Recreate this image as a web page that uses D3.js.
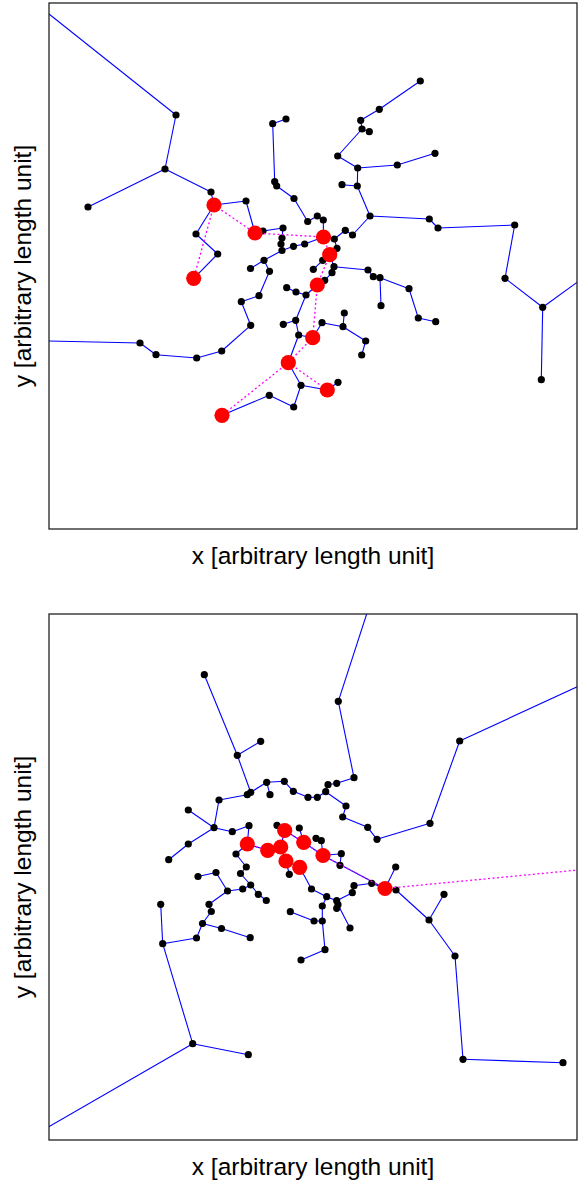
<!DOCTYPE html>
<html>
<head>
<meta charset="utf-8">
<script src="https://cdn.jsdelivr.net/npm/d3@7"></script>
<style>
  body { margin: 0; background: #fff; }
  text { font-family: "Liberation Sans", Arial, Helvetica, sans-serif; }
</style>
</head>
<body>
<div id="container"></div>
<script>
let w = 586;
let h = 1180;

// top panel: node positions (arbitrary length unit)
let topX = [-4.9,12.7,11.6,3.9,16.2,16.5,19.7,20.6,21.4,23.4,23.3,23.2,23.3,24.45,25.57,27.45,21.5,20.15,22.05,21.0,
  19.23,20.17,17.27,14.77,10.7,9.1,-4.9,14.7,16.87,14.47,22.37,23.7,22.57,22.77,24.5,25.87,26.83,27.43,28.53,29.63,
  30.35,32.1,30.83,29.3,30.87,28.87,34.83,38.6,31.3,32.03,31.17,33.03,37.13,38.03,38.9,46.57,45.6,49.37,49.23,57.1,
  28.8,28.07,27.37,26.43,28.5,31.9,32.43,33.1,33.2,36.0,36.93,38.67,28.3,27.57,26.83,25.7,24.7,23.77,24.67,23.43,
  24.97,26.37,27.3,29.4,29.53,31.67,31.27,23.93,25.2,24.47,22.03,17.3,27.83,28.9];
let topY = [55.4,41.4,36.0,32.2,33.7,32.4,32.8,29.6,29.8,30.1,29.1,28.5,27.85,28.27,28.5,29.2,26.87,26.05,25.77,23.33,
  22.73,20.37,17.8,17.1,17.43,18.6,18.9,29.5,27.5,25.07,40.53,41.0,34.73,34.3,33.05,30.75,31.3,30.9,29.0,29.87,
  29.4,31.3,34.3,34.43,36.1,37.3,36.4,37.57,40.0,39.73,40.87,41.97,44.8,31.0,30.1,30.4,25.07,22.17,14.93,27.8,
  28.07,27.43,26.87,25.97,26.23,25.9,25.23,25.13,22.33,24.03,21.1,20.73,25.63,24.87,24.4,23.4,23.7,24.13,20.87,20.47,
  19.4,19.13,20.63,20.23,21.6,18.8,17.4,16.63,14.37,12.2,13.37,11.37,13.9,14.67];
let topEdges = [[0,1],[1,2],[2,3],[2,4],[4,5],[5,6],[6,7],[7,8],[8,9],[9,10],[10,11],[11,12],[12,13],[13,14],[14,15],
  [12,16],[16,17],[16,18],[18,19],[19,20],[20,21],[21,22],[22,23],[23,24],[24,25],[25,26],[5,27],[27,28],[28,29],
  [30,31],[30,32],[32,33],[33,34],[34,35],[35,36],[36,37],[37,15],[15,38],[38,39],[39,40],[40,41],[41,42],[42,43],
  [42,44],[44,45],[44,46],[46,47],[45,48],[48,49],[48,50],[50,51],[51,52],[41,53],[53,54],[54,55],[55,56],[56,57],
  [57,58],[57,59],[38,60],[60,61],[61,62],[62,63],[61,64],[64,65],[65,66],[66,67],[67,68],[67,69],[69,70],[70,71],
  [64,72],[72,73],[73,74],[74,75],[75,76],[76,77],[75,78],[78,79],[78,80],[80,81],[81,82],[82,83],[83,84],[83,85],
  [85,86],[80,87],[87,88],[88,89],[89,90],[90,91],[88,92],[92,93]];
let topRed = [5,7,15,29,61,74,81,87,91,92];
let topRedEdges = [[5,7],[5,29],[7,15],[15,61],[61,74],[74,81],[81,87],[87,92],[87,91]];

// bottom panel
let botX = [33.1,28.93,30.5,28.77,27.9,27.67,26.83,25.9,24.43,23.53,21.77,22.1,20.17,19.83,18.83,15.53,21.17,17.0,16.5,13.93,
  13.93,11.97,18.33,20.0,19.83,21.87,23.17,23.57,25.47,23.7,25.07,27.4,33.6,29.7,29.37,31.87,32.8,38.1,41.07,57.1,
  22.8,25.03,26.7,27.23,29.23,29.1,18.7,19.73,19.15,20.17,20.93,21.73,19.37,17.85,16.7,14.9,16.0,16.23,15.35,17.25,
  20.12,14.75,11.37,11.17,14.37,19.93,-4.9,24.03,24.13,26.5,27.33,27.33,27.6,25.2,27.77,26.25,28.77,28.9,28.77,30.1,
  30.33,30.5,32.27,34.7,34.67,38.0,39.5,40.6,41.4,51.4,57.1];
let botY = [56.7,43.87,36.23,35.67,35.53,34.83,34.27,34.27,34.87,35.87,35.77,34.53,34.77,34.53,38.47,46.53,39.87,34.0,31.23,33.0,
  29.6,28.03,30.83,31.43,29.6,28.97,29.3,30.95,29.77,27.9,27.27,28.45,25.15,33.4,32.3,31.27,30.07,31.67,39.9,47.3,
  31.47,31.2,30.17,29.93,28.63,27.47,28.6,27.3,26.65,25.5,24.57,23.95,25.1,24.9,26.75,26.35,23.57,22.85,21.65,21.15,
  20.23,20.2,19.63,23.57,9.63,8.53,-1.5,26.57,22.83,21.9,21.9,23.4,19.03,18.0,24.33,25.1,23.93,23.53,23.17,21.2,
  24.73,25.43,25.67,25.0,27.3,22.0,24.57,18.4,8.07,7.73,27.4];
let botEdges = [[0,1],[1,2],[2,3],[3,4],[4,5],[5,6],[6,7],[7,8],[8,9],[9,10],[10,11],[10,12],[12,13],[12,14],[14,15],
  [14,16],[13,17],[17,18],[18,19],[18,20],[20,21],[18,22],[22,23],[23,24],[24,25],[25,26],[26,27],[27,28],[26,29],
  [29,30],[28,31],[31,32],[5,33],[33,34],[34,35],[35,36],[36,37],[37,38],[38,39],[27,40],[28,41],[31,43],[43,42],
  [31,44],[44,45],[24,46],[46,47],[47,48],[48,49],[49,50],[50,51],[49,52],[52,53],[53,54],[54,55],[53,56],[56,57],
  [57,58],[58,59],[59,60],[58,61],[61,62],[62,63],[62,64],[64,65],[64,66],[29,67],[68,69],[69,70],[70,71],[70,72],
  [72,73],[71,74],[74,75],[75,30],[74,76],[76,77],[77,78],[77,79],[76,80],[80,81],[81,82],[82,32],[32,83],[83,85],
  [85,86],[85,87],[87,88],[88,89],[32,84]];
let botRed = [24,25,26,27,28,29,30,31,32];
let botRedEdges = [[24,25],[25,26],[26,27],[27,28],[28,31],[26,29],[29,30],[31,32],[32,90]];

let xLabel = "x [arbitrary length unit]";
let yLabel = "y [arbitrary length unit]";

let viz = d3.select("#container")
    .append("svg")
      .attr("width", w)
      .attr("height", h)
      .style("background-color", "white");

function drawPanel(xs, ys, edges, red, redEdges, top, bottom, id){
  let xScale = d3.scaleLinear().domain([0, 52.8]).range([49, 577]);
  let yScale = d3.scaleLinear().domain([0, (bottom - top) / 10]).range([bottom, top]);

  viz.append("clipPath").attr("id", id)
    .append("rect")
      .attr("x", 49).attr("y", top)
      .attr("width", 528).attr("height", bottom - top);

  let g = viz.append("g").attr("clip-path", "url(#" + id + ")");
  let px = function(i){ return xScale(xs[i]); };
  let py = function(i){ return yScale(ys[i]); };

  g.selectAll(".edge").data(edges).enter()
    .append("line")
      .attr("x1", d => px(d[0])).attr("y1", d => py(d[0]))
      .attr("x2", d => px(d[1])).attr("y2", d => py(d[1]))
      .attr("stroke", "#0000ff")
      .attr("stroke-width", 1.1);

  let redSet = new Set(red);
  g.selectAll(".node").data(d3.range(xs.length).filter(i => !redSet.has(i))).enter()
    .append("circle")
      .attr("cx", px).attr("cy", py)
      .attr("r", 3.6)
      .attr("fill", "black");

  g.selectAll(".redEdge").data(redEdges).enter()
    .append("line")
      .attr("x1", d => px(d[0])).attr("y1", d => py(d[0]))
      .attr("x2", d => px(d[1])).attr("y2", d => py(d[1]))
      .attr("stroke", "#ff00ff")
      .attr("stroke-width", 1.3)
      .attr("stroke-dasharray", "2,2.5");

  g.selectAll(".red").data(red).enter()
    .append("circle")
      .attr("cx", px).attr("cy", py)
      .attr("r", 7.6)
      .attr("fill", "#ff0000");

  viz.append("rect")
    .attr("x", 49).attr("y", top)
    .attr("width", 528).attr("height", bottom - top)
    .attr("fill", "none")
    .attr("stroke", "#222")
    .attr("stroke-width", 1.3);

  viz.append("text")
    .attr("x", 313).attr("y", bottom + 35)
    .attr("text-anchor", "middle")
    .attr("font-size", 24.5)
    .text(xLabel);

  viz.append("text")
    .attr("transform", "translate(31," + ((top + bottom) / 2) + ") rotate(-90)")
    .attr("text-anchor", "middle")
    .attr("font-size", 24.5)
    .text(yLabel);
}

drawPanel(topX, topY, topEdges, topRed, topRedEdges, 3, 529, "clipTop");
drawPanel(botX, botY, botEdges, botRed, botRedEdges, 614, 1140, "clipBot");
</script>
</body>
</html>
